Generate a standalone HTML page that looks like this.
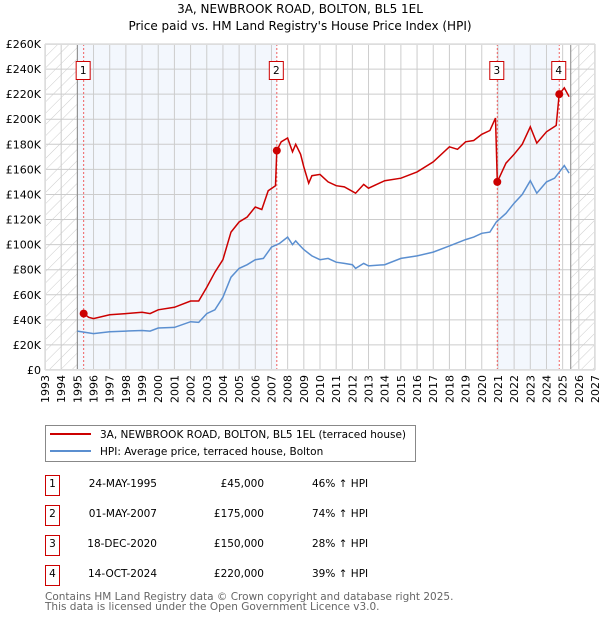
<!DOCTYPE html>
<html><head><meta charset="utf-8"><style>
body{margin:0;background:#fff;font-family:"DejaVu Sans","Liberation Sans",sans-serif;}
svg text{font-family:"DejaVu Sans","Liberation Sans",sans-serif;}
</style></head><body>
<svg id="c" width="600" height="620" xmlns="http://www.w3.org/2000/svg">
<defs><pattern id="hatch" width="8" height="8" patternUnits="userSpaceOnUse" patternTransform="rotate(45)"><line x1="0" y1="0" x2="0" y2="8" stroke="#ccc" stroke-width="1"/></pattern></defs>
<text x="300" y="13" text-anchor="middle" font-size="12">3A, NEWBROOK ROAD, BOLTON, BL5 1EL</text>
<text x="300" y="30" text-anchor="middle" font-size="12">Price paid vs. HM Land Registry's House Price Index (HPI)</text>
<g id="plot"></g>
<g>
<rect x="45.5" y="425.5" width="370" height="36" fill="#fff" stroke="#888"/>
<line x1="50" y1="434" x2="91" y2="434" stroke="#cc0000" stroke-width="2"/>
<text x="100" y="438" font-size="10.5">3A, NEWBROOK ROAD, BOLTON, BL5 1EL (terraced house)</text>
<line x1="50" y1="451" x2="91" y2="451" stroke="#5b8fd0" stroke-width="2"/>
<text x="100" y="455" font-size="10.5">HPI: Average price, terraced house, Bolton</text>
</g>
<g id="table" font-size="10.5"></g>
<text x="45" y="600" font-size="10.5" fill="#666">Contains HM Land Registry data © Crown copyright and database right 2025.</text>
<text x="45" y="610" font-size="10.5" fill="#666">This data is licensed under the Open Government Licence v3.0.</text>
</svg>
<script>
const hpiYears=[1995,1995.5,1996,1997,1998,1999,1999.5,2000,2001,2002,2002.5,2003,2003.5,2004,2004.5,2005,2005.5,2006,2006.5,2007,2007.5,2008,2008.3,2008.5,2008.7,2009,2009.5,2010,2010.5,2011,2011.5,2012,2012.2,2012.7,2013,2014,2015,2016,2017,2018,2019,2019.5,2020,2020.5,2020.9,2021.5,2022,2022.5,2023,2023.4,2024,2024.5,2024.8,2025.1,2025.4];
const hpiValues=[31,30,29,30.5,31,31.5,31,33.5,34,38.5,38,45,48,58,74,81,84,88,89,98,101,106,100,103,100,96,91,88,89,86,85,84,81,85,83,84,89,91,94,99,104,106,109,110,118,125,133,140,151,141,150,153,158,163,157];
const redYears=[1995.39,1995.7,1996,1997,1998,1999,1999.5,2000,2001,2002,2002.5,2003,2003.5,2004,2004.5,2005,2005.5,2006,2006.4,2006.8,2007.25,2007.33,2007.6,2008,2008.3,2008.5,2008.8,2009,2009.3,2009.5,2010,2010.5,2011,2011.5,2012.2,2012.7,2013,2014,2015,2016,2017,2018,2018.5,2019,2019.5,2020,2020.5,2020.85,2020.96,2021.5,2022,2022.5,2023,2023.4,2024,2024.6,2024.79,2025.1,2025.4];
const redValues=[45,42,41,44,45,46,45,48,50,55,55,66,78,88,110,118,122,130,128,143,147,175,182,185,174,180,172,162,149,155,156,150,147,146,141,148,145,151,153,158,166,178,176,182,183,188,191,201,150,165,172,180,194,181,190,195,220,225,218];
const saleYears=[1995.39,2007.33,2020.96,2024.79];
const saleValues=[45,175,150,220];
const saleLabels=["1","2","3","4"];
const saleDates=["24-MAY-1995","01-MAY-2007","18-DEC-2020","14-OCT-2024"];
const salePrices=["£45,000","£175,000","£150,000","£220,000"];
const saleHpi=["46% ↑ HPI","74% ↑ HPI","28% ↑ HPI","39% ↑ HPI"];
const yTicks=[0,20,40,60,80,100,120,140,160,180,200,220,240,260];
const yTickLabels=["£0","£20K","£40K","£60K","£80K","£100K","£120K","£140K","£160K","£180K","£200K","£220K","£240K","£260K"];
const xStart=1993,xEnd=2027,dataStart=1995,dataEnd=2025.5;

const NS="http://www.w3.org/2000/svg";
const L=45,R=595,T=44,B=370;
const X=v=>L+(v-xStart)/(xEnd-xStart)*(R-L);
const Y=v=>B-v/260*(B-T);
const plot=document.getElementById('plot');
function mk(tag,attrs,parent){const e=document.createElementNS(NS,tag);for(const k in attrs)e.setAttribute(k,attrs[k]);(parent||plot).appendChild(e);return e;}
let e;
e=mk('rect',{x:L,y:T,width:R-L,height:B-T,fill:'#fff'});


e=mk('rect',{x:X(xStart),y:T,width:X(dataStart)-X(xStart),height:B-T,fill:'url(#hatch)'});


e=mk('rect',{x:X(dataEnd),y:T,width:X(xEnd)-X(dataEnd),height:B-T,fill:'url(#hatch)'});


e=mk('rect',{x:X(dataStart),y:T,width:X(saleYears[1])-X(dataStart),height:B-T,fill:'#eef3fc',opacity:0.7});


e=mk('rect',{x:X(saleYears[2]),y:T,width:X(saleYears[3])-X(saleYears[2]),height:B-T,fill:'#eef3fc',opacity:0.7});


for(let yr=xStart;yr<=xEnd;yr++){
 e=mk('line',{x1:X(yr),x2:X(yr),y1:T,y2:B,stroke:'#ccc','stroke-width':1});
 
 
 e=mk('text',{x:0,y:0,'font-size':11,'text-anchor':'end',transform:`translate(${X(yr)+4},${B+5}) rotate(-90)`});
 e.textContent=yr;
 
 
}
yTicks.forEach((v,i)=>{
 e=mk('line',{x1:L,x2:R,y1:Y(v),y2:Y(v),stroke:'#ccc','stroke-width':1});
 
 
 e=mk('text',{x:L-4,y:Y(v)+4,'font-size':11,'text-anchor':'end'});
 e.textContent=yTickLabels[i];
 
 
});
e=mk('line',{x1:X(dataStart),x2:X(dataStart),y1:T,y2:B,stroke:'#888'});


e=mk('line',{x1:X(dataEnd),x2:X(dataEnd),y1:T,y2:B,stroke:'#888'});


saleYears.forEach((yr,i)=>{
 e=mk('line',{x1:X(yr),x2:X(yr),y1:T,y2:B,stroke:'#f06060','stroke-dasharray':'2,2'});
 
 
});
const path=(xs,ys)=>xs.map((x,i)=>(i?'L':'M')+X(x).toFixed(1)+','+Y(ys[i]).toFixed(1)).join('');
e=mk('path',{d:path(hpiYears,hpiValues),fill:'none',stroke:'#5b8fd0','stroke-width':1.5});


e=mk('path',{d:path(redYears,redValues),fill:'none',stroke:'#cc0000','stroke-width':1.5});


e=mk('rect',{x:L+0.5,y:T+0.5,width:R-L-1,height:B-T-1,fill:'none',stroke:'#ddd'});


saleYears.forEach((yr,i)=>{
 e=mk('circle',{cx:X(yr),cy:Y(saleValues[i]),r:4,fill:'#cc0000'});
 
 
 const bx=X(yr)-7;
 e=mk('rect',{x:bx-0.5,y:61.5,width:14,height:18,fill:'#fff',stroke:'#cc0000'});
 
 
 e=mk('text',{x:X(yr)-0.5,y:74,'font-size':10.5,'text-anchor':'middle'});
 e.textContent=saleLabels[i];
 
 
});
const tbl=document.getElementById('table');
saleLabels.forEach((lab,i)=>{
 const cy=485+i*30;
 const g=mk('g',{},tbl);
 
 
 mk('rect',{x:45.5,y:cy-9.5,width:14,height:20,fill:'#fff',stroke:'#cc0000'},g);
 let t=mk('text',{x:52.5,y:cy+2,'text-anchor':'middle'},g);t.textContent=lab;
 t=mk('text',{x:157,y:cy+2,'text-anchor':'end'},g);t.textContent=saleDates[i];
 t=mk('text',{x:264,y:cy+2,'text-anchor':'end'},g);t.textContent=salePrices[i];
 t=mk('text',{x:312,y:cy+2},g);t.textContent=saleHpi[i];
});
</script>
</body></html>
